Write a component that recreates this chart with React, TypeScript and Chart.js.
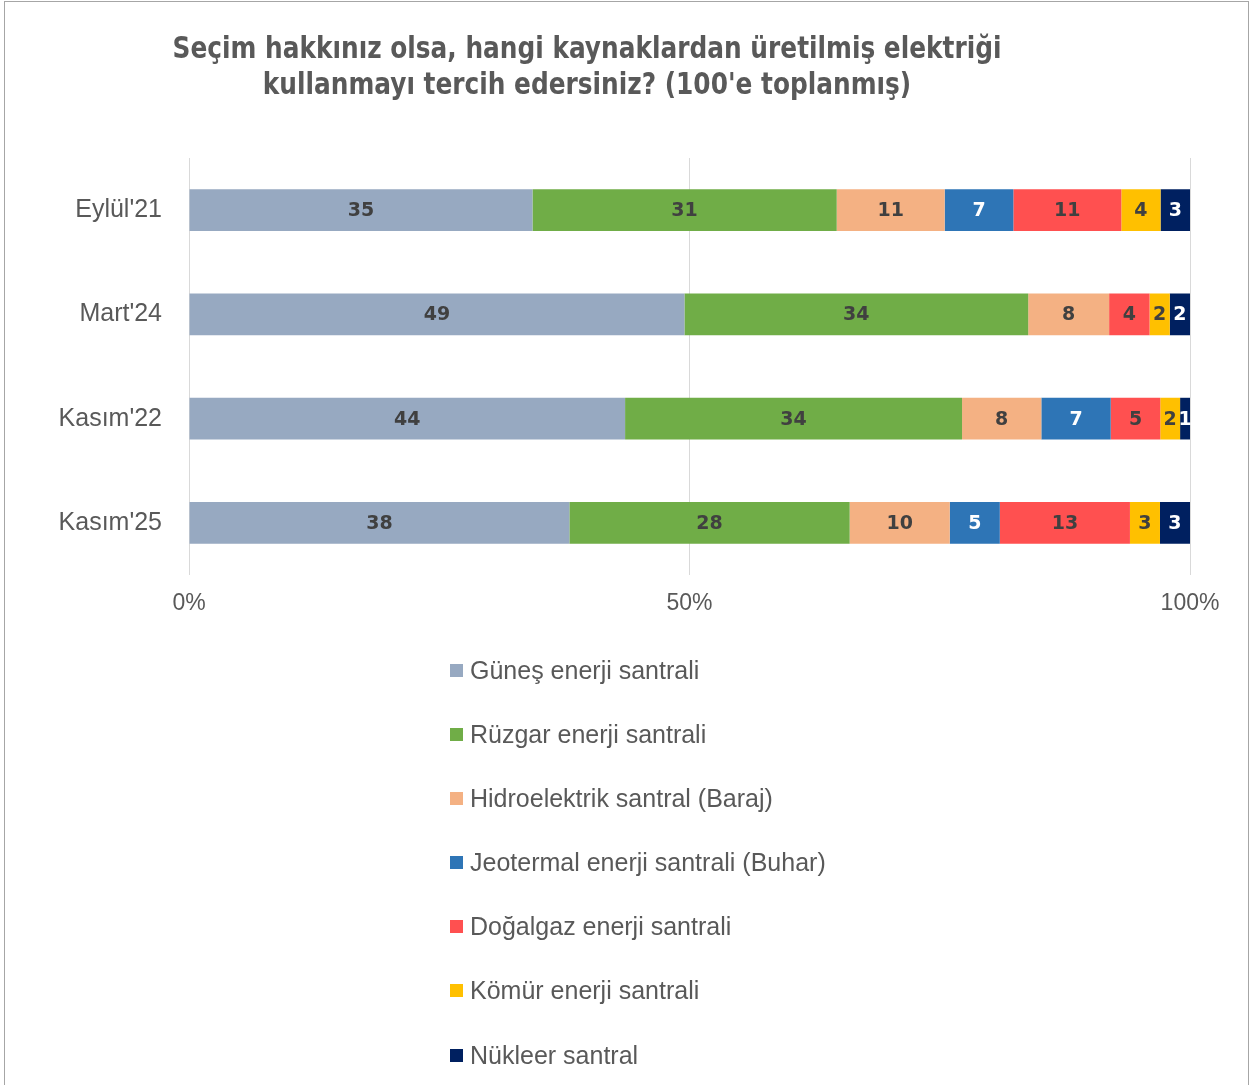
import React, { useEffect, useRef } from "react";
import { Chart, registerables } from "chart.js";

Chart.register(...registerables);

const categories = ["Eylül'21", "Mart'24", "Kasım'22", "Kasım'25"];
const seriesNames = [
  "Güneş enerji santrali",
  "Rüzgar enerji santrali",
  "Hidroelektrik santral (Baraj)",
  "Jeotermal enerji santrali (Buhar)",
  "Doğalgaz enerji santrali",
  "Kömür enerji santrali",
  "Nükleer santral",
];
const gunes = [35, 49, 44, 38];
const ruzgar = [31, 34, 34, 28];
const hidro = [11, 8, 8, 10];
const jeotermal = [7, 0, 7, 5];
const dogalgaz = [11, 4, 5, 13];
const komur = [4, 2, 2, 3];
const nukleer = [3, 2, 1, 3];
const seriesValues = [gunes, ruzgar, hidro, jeotermal, dogalgaz, komur, nukleer];
const xTicks = [0, 50, 100];

const colors = ["#97A9C1", "#70AD47", "#F4B183", "#2E75B6", "#FF5050", "#FFC000", "#002060"];
const labelColors = ["#404040", "#404040", "#404040", "#FFFFFF", "#404040", "#404040", "#FFFFFF"];

const titleLines = [
  "Seçim hakkınız olsa, hangi kaynaklardan üretilmiş elektriği",
  "kullanmayı tercih edersiniz? (100'e toplanmış)",
];

const W = 1251;
const H = 1085;

export default function App() {
  const ref = useRef<HTMLCanvasElement | null>(null);

  useEffect(() => {
    if (!ref.current) return;
    const totals = categories.map((_, i) => seriesValues.reduce((s, arr) => s + arr[i], 0));
    const labelPlugin = {
      id: "segLabels",
      afterDatasetsDraw(chart: any) {
        const ctx = chart.ctx;
        ctx.save();
        ctx.font = "bold 19px 'DejaVu Sans'";
        ctx.textAlign = "center";
        ctx.textBaseline = "middle";
        chart.data.datasets.forEach((ds: any, di: number) => {
          const meta = chart.getDatasetMeta(di);
          meta.data.forEach((el: any, i: number) => {
            const raw = seriesValues[di][i];
            if (!raw) return;
            const p = el.getProps(["x", "base", "y"], true);
            ctx.fillStyle = labelColors[di];
            ctx.fillText(String(raw), (p.x + p.base) / 2, p.y + 1);
          });
        });
        ctx.restore();
      },
    };
    const chart = new Chart(ref.current, {
      type: "bar",
      data: {
        labels: categories,
        datasets: seriesNames.map((name, di) => ({
          label: name,
          data: seriesValues[di].map((v, i) => (v / totals[i]) * 100),
          backgroundColor: colors[di],
          borderWidth: 0,
          barPercentage: 0.5,
          categoryPercentage: 0.8,
        })),
      },
      options: {
        indexAxis: "y",
        responsive: false,
        animation: false,
        devicePixelRatio: 1,
        layout: { padding: { top: 158, right: 61, bottom: 460, left: 0 } },
        plugins: {
          legend: { display: false },
          title: { display: false },
          tooltip: { enabled: false },
        },
        scales: {
          x: {
            stacked: true,
            min: 0,
            max: 100,
            afterBuildTicks: (scale: any) => {
              scale.ticks = xTicks.map((v) => ({ value: v }));
            },
            afterFit: (scale: any) => {
              scale.height = 50;
            },
            ticks: {
              callback: (v: any) => v + "%",
              color: "#595959",
              font: { family: "'Liberation Sans', Arial", size: 23 },
              padding: 15,
            },
            grid: { color: "#D9D9D9", drawTicks: false, lineWidth: 1 },
            border: { display: false },
          },
          y: {
            stacked: true,
            afterFit: (scale: any) => {
              scale.width = 189;
            },
            ticks: {
              color: "#595959",
              font: { family: "'Liberation Sans', Arial", size: 25 },
              padding: 27,
            },
            grid: { display: false, drawTicks: false },
            border: { display: false },
          },
        },
      },
      plugins: [labelPlugin],
    } as any);
    return () => chart.destroy();
  }, []);

  return (
    <div
      style={{
        position: "absolute",
        left: 0,
        top: 0,
        width: W,
        height: H,
        background: "#FFFFFF",
        overflow: "hidden",
      }}
    >
      <div
        style={{
          position: "absolute",
          left: 4,
          top: 1,
          width: 1245,
          height: H + 10,
          border: "1px solid #A6A6A6",
          boxSizing: "border-box",
        }}
      />
      <canvas ref={ref} width={W} height={H} style={{ position: "absolute", left: 0, top: 0, width: W, height: H }} />
      <div
        style={{
          position: "absolute",
          left: 587,
          top: 30,
          transform: "translateX(-50%) scaleX(0.92)",
          textAlign: "center",
          color: "#595959",
          fontFamily: "'DejaVu Sans Condensed', 'DejaVu Sans', sans-serif",
          fontWeight: "bold",
          fontSize: 30,
          lineHeight: "36px",
          whiteSpace: "nowrap",
        }}
      >
        {titleLines.map((t, i) => (
          <div key={i}>{t}</div>
        ))}
      </div>
      <div style={{ position: "absolute", left: 450, top: 654 }}>
        {seriesNames.map((name, i) => (
          <div
            key={i}
            style={{
              display: "flex",
              alignItems: "center",
              height: 32,
              marginBottom: 32.2,
              fontFamily: "'Liberation Sans', Arial, sans-serif",
              fontSize: 25,
              color: "#595959",
              whiteSpace: "nowrap",
            }}
          >
            <span style={{ display: "inline-block", width: 13, height: 13, background: colors[i], marginRight: 7, flexShrink: 0 }} />
            <span>{name}</span>
          </div>
        ))}
      </div>
    </div>
  );
}
